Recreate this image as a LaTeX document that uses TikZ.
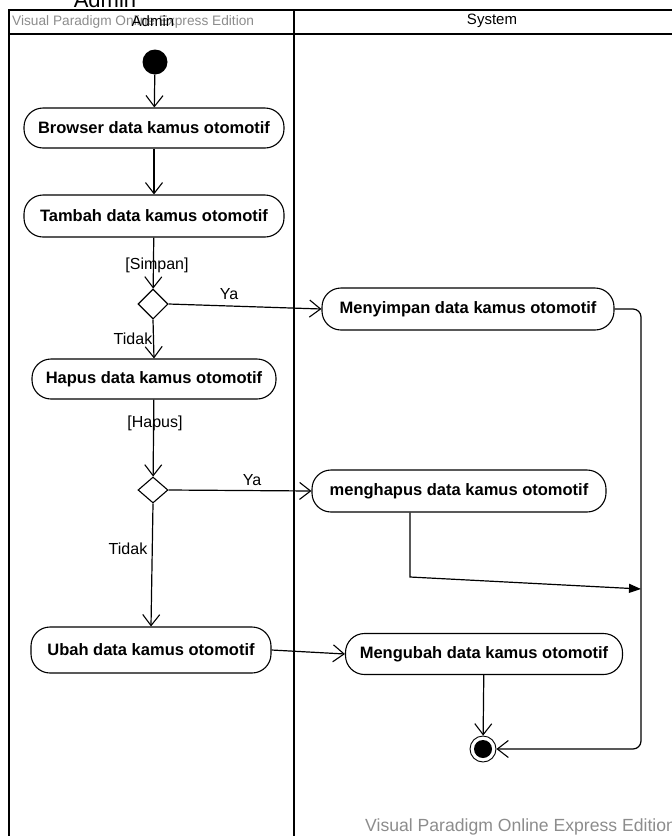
\documentclass[tikz,border=0pt]{standalone}
\usepackage{fontspec}
\setmainfont{Liberation Sans}
\usetikzlibrary{arrows.meta,shapes.geometric}
\begin{document}
\begin{tikzpicture}[x=1pt,y=-1pt,
  act/.style={draw,line width=1.1pt,rounded corners=19pt,inner sep=0pt,
    font=\fontsize{16.5}{18}\selectfont\bfseries,align=center},
  flow/.style={line width=1.2pt,-{Straight Barb[length=11pt,width=17pt,line width=1.1pt]}},
  lbl/.style={font=\fontsize{16}{18}\selectfont,inner sep=0pt},
  head/.style={font=\fontsize{15}{17}\selectfont,inner sep=0pt},
  dec/.style={draw,diamond,line width=1.1pt,inner sep=0pt,minimum width=30pt,minimum height=30pt},
  lane/.style={line width=1.6pt}]
\useasboundingbox (0,0) rectangle (672,836);
\clip (0,0) rectangle (672,836);

% swimlane frame
\draw[lane] (672,10) -- (9,10) -- (9,840);
\draw[lane] (9,34) -- (672,34);
\draw[lane] (294,10) -- (294,840);
\node[font=\fontsize{22}{24}\selectfont,anchor=base] (lanetitle) at (105,7) {Admin};
\node[font=\fontsize{13.7}{15}\selectfont,inner sep=0pt,text=black!45,anchor=west] (wm1) at (12,22) {Visual Paradigm Online Express Edition};
\node[head] (adminh) at (153,21) {Admin};
\node[head] (systemh) at (492,21) {System};
\node[font=\fontsize{17.6}{19}\selectfont,inner sep=0pt,text=black!45,anchor=west] (wm2) at (365,827) {Visual Paradigm Online Express Edition};

% start / end
\node[circle,fill=black,minimum size=25pt,inner sep=0pt] (start) at (155,62) {};
\node[circle,draw,line width=0.9pt,minimum size=26pt,inner sep=0pt] (final) at (483,749) {};
\node[circle,fill=black,minimum size=18pt,inner sep=0pt] (finalin) at (483,749) {};

% actions
\node[act,minimum width=260pt,minimum height=40pt] (browse) at (154,128) {Browser data kamus otomotif};
\node[act,minimum width=260pt,minimum height=42pt] (tambah) at (154,216) {Tambah data kamus otomotif};
\node[dec] (d1) at (153,304) {};
\node[act,minimum width=292pt,minimum height=42pt] (simpan) at (468,309) {Menyimpan data kamus otomotif};
\node[act,minimum width=244pt,minimum height=40pt] (hapus) at (154,379) {Hapus data kamus otomotif};
\node[dec,minimum height=26pt] (d2) at (153,490) {};
\node[act,minimum width=294pt,minimum height=42pt] (menghapus) at (459,491) {menghapus data kamus otomotif};
\node[act,minimum width=240pt,minimum height=46pt] (ubah) at (151,650) {Ubah data kamus otomotif};
\node[act,minimum width=277pt,minimum height=41pt] (mengubah) at (484,654) {Mengubah data kamus otomotif};

\coordinate (bendA) at (410,577);
\coordinate (joinA) at (641,589);

% flows
\draw[flow] (start) -- (browse);
\draw[flow] (browse) -- (tambah);
\draw[flow] (tambah) -- (d1);
\draw[flow] (d1.east) -- (simpan.west);
\draw[flow] (d1.south) -- (hapus.north);
\draw[flow] (hapus) -- (d2);
\draw[flow] (d2.east) -- (menghapus.west);
\draw[flow] (d2.south) -- (ubah.north);
\draw[flow] (ubah.east) -- (mengubah.west);
\draw[flow] (mengubah) -- (final);
\draw[flow,rounded corners=8pt] (simpan.east) -- (641,309) -- (641,749) -- (final.east);
\draw[line width=1.2pt,-{Triangle[length=12pt,width=9pt]}] (menghapus.south -| bendA) -- (bendA) -- (joinA);

% guard and branch labels
\node[lbl] (g1) at (157,265) {[Simpan]};
\node[lbl] (ya1) at (229,294) {Ya};
\node[lbl] (t1) at (133,339) {Tidak};
\node[lbl] (g2) at (155,423) {[Hapus]};
\node[lbl] (ya2) at (252,480) {Ya};
\node[lbl] (t2) at (128,549) {Tidak};
\end{tikzpicture}
\end{document}
